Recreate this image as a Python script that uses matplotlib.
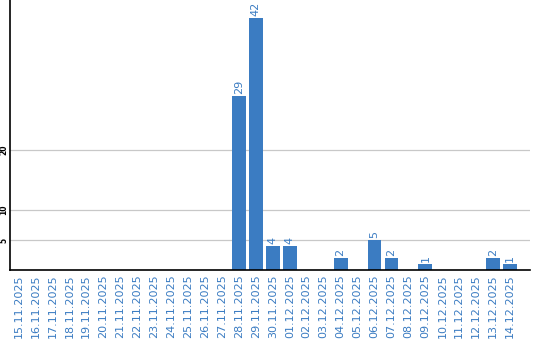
import matplotlib
matplotlib.use("Agg")
import matplotlib.pyplot as plt

dates = ["15.11.2025", "16.11.2025", "17.11.2025", "18.11.2025", "19.11.2025",
         "20.11.2025", "21.11.2025", "22.11.2025", "23.11.2025", "24.11.2025",
         "25.11.2025", "26.11.2025", "27.11.2025", "28.11.2025", "29.11.2025",
         "30.11.2025", "01.12.2025", "02.12.2025", "03.12.2025", "04.12.2025",
         "05.12.2025", "06.12.2025", "07.12.2025", "08.12.2025", "09.12.2025",
         "10.12.2025", "11.12.2025", "12.12.2025", "13.12.2025", "14.12.2025"]
values = [0, 0, 0, 0, 0, 0, 0, 0, 0, 0, 0, 0, 0, 29, 42,
          4, 4, 0, 0, 2, 0, 5, 2, 0, 1, 0, 0, 0, 2, 1]
yticks = [5, 10, 20]

blue = "#3b7cc2"
fig = plt.figure(figsize=(5.4, 3.4), dpi=100)
ax = fig.add_axes([10/540, 70/340, 520/540, 270/340])
x = list(range(len(dates)))
ax.bar(x, values, width=0.82, color=blue, zorder=2)
for xi, v in zip(x, values):
    if v:
        ax.text(xi, v + 0.4, str(v), rotation=90, ha="center", va="bottom",
                color=blue, fontsize=8)
ax.set_xlim(-0.5, 30.17)
ax.set_ylim(0, 45)
ax.set_yticks(yticks)
ax.set_yticklabels([str(t) for t in yticks], rotation=90, fontsize=5.5,
                   fontweight="bold", va="center")
ax.grid(axis="y", color="#c8c8c8", linewidth=0.9, zorder=0)
ax.set_xticks(x)
ax.set_xticklabels(dates, rotation=90, fontsize=8, color=blue)
ax.tick_params(axis="both", length=0, pad=3)
ax.tick_params(axis="y", pad=1)
for s in ["top", "right"]:
    ax.spines[s].set_visible(False)
for s in ["left", "bottom"]:
    ax.spines[s].set_linewidth(1.2)
    ax.spines[s].set_color("black")
fig.savefig("out.png", dpi=100)
